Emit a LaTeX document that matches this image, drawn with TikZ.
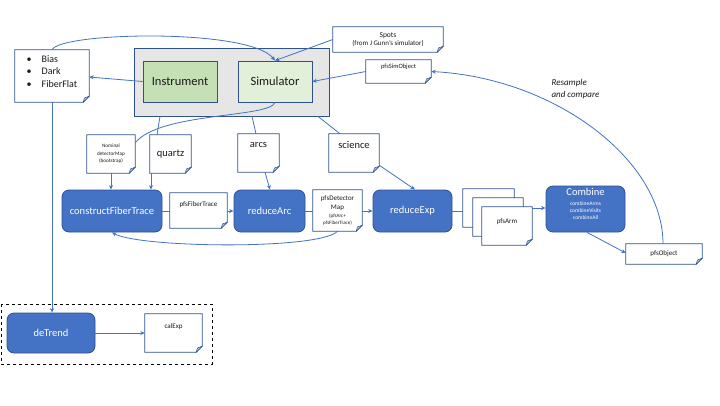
\documentclass[tikz,border=0pt]{standalone}
\usepackage{fontspec}
\setmainfont{Carlito}
\usetikzlibrary{arrows.meta}
\definecolor{procblue}{HTML}{4472C4}
\definecolor{procedge}{HTML}{2F528F}
\definecolor{lineblue}{HTML}{4472C4}
\definecolor{instgreen}{HTML}{C5E0B4}
\definecolor{simgreen}{HTML}{E2F0D9}
\definecolor{boxgray}{HTML}{E7E6E6}
\definecolor{foldfill}{HTML}{B7C3DA}
\definecolor{darktext}{HTML}{1A1A1A}
\newcommand\fs[2]{\fontsize{#1}{#2}\selectfont}
\newcommand\foldnote[1]{%
  \draw[noteline] (#1.north west) -- (#1.north east) -- ([yshift=6pt]#1.south east)
    -- ([xshift=-6pt]#1.south east) -- (#1.south west) -- cycle;
  \draw[noteline,fill=foldfill,line width=0.5pt] ([yshift=6pt]#1.south east)
    -- ([xshift=-6pt]#1.south east) -- ([xshift=-4.8pt,yshift=4.2pt]#1.south east) -- cycle;}
\begin{document}
\begin{tikzpicture}[x=1pt,y=-1pt,
  proc/.style={rounded corners=7pt, fill=procblue, draw=procedge, line width=0.8pt,
    text=white, inner sep=0pt, font=\fs{10.5}{12}},
  notebox/.style={fill=white, inner sep=0pt, align=center, text=darktext, font=\fs{7}{8.5}},
  noteline/.style={draw=procedge, line width=0.8pt},
  greenbox/.style={draw=procedge, line width=0.8pt, inner sep=0pt, text=darktext, font=\fs{12.5}{15}},
  conn/.style={draw=lineblue, line width=0.8pt},
  arr/.style={conn, -{Stealth[length=4.5pt,width=4pt]}},
]
\useasboundingbox (0,0) rectangle (720,405);
\fill[white] (0,0) rectangle (720,405);

% dashed frame
\draw[dashed, line width=0.8pt] (1,304) rectangle (212,364);

% gray instrument/simulator frame
\node[draw=procedge, fill=boxgray, line width=0.8pt, minimum width=195pt, minimum height=68pt, inner sep=0pt] (gbox) at (231.5,82) {};
\node[greenbox, fill=instgreen, minimum width=74pt, minimum height=41pt] (inst) at (180,81.5) {Instrument};
\node[greenbox, fill=simgreen, minimum width=74pt, minimum height=41pt] (sim) at (275,81.5) {Simulator};

% notes
\node[notebox, minimum width=74pt, minimum height=52pt, align=left, font=\fs{10}{12.5}] (bias) at (52,76)
  {\begin{tabular}{@{}l@{\hspace{10pt}}l@{}}\textbullet&Bias\\ \textbullet&Dark\\ \textbullet&FiberFlat\\[8pt]\end{tabular}};
\foldnote{bias}
\node[notebox, minimum width=110pt, minimum height=25pt] (spots) at (388,39.5)
  {{\fs{7.5}{9}Spots}\\(from J Gunn’s simulator)};
\foldnote{spots}
\node[notebox, minimum width=65pt, minimum height=23pt, font=\fs{6.5}{8}] (simobj) at (398.5,71.5) {pfsSimObject\\[3pt]};
\foldnote{simobj}
\node[notebox, minimum width=48pt, minimum height=38pt, font=\fs{5.2}{7.5}] (nominal) at (111,154)
  {Nominal\\detectorMap\\(bootstrap)};
\foldnote{nominal}
\node[notebox, minimum width=41pt, minimum height=38pt, font=\fs{10.5}{12}] (quartz) at (170.5,154) {quartz};
\foldnote{quartz}
\node[notebox, minimum width=41pt, minimum height=38pt, font=\fs{10.5}{12}] (arcs) at (258.5,153) {arcs\\[4pt]};
\foldnote{arcs}
\node[notebox, minimum width=50pt, minimum height=38pt, font=\fs{10.5}{12}] (science) at (354,153) {science\\[4pt]};
\foldnote{science}
\node[notebox, minimum width=57pt, minimum height=35pt] (pft) at (198.5,210.5) {pfsFiberTrace\\[4pt]};
\foldnote{pft}
\node[notebox, minimum width=49pt, minimum height=41pt, font=\fs{5}{6.2}] (pdm) at (337.5,210.5)
  {{\fs{7}{6.2}pfsDetector}\\[2pt]{\fs{7}{6.2}Map}\\[2.5pt](pfsArc+\\pfsFiberTrace)};
\foldnote{pdm}
\node[notebox, minimum width=51pt, minimum height=38pt] (arm1) at (488.5,208) {};
\foldnote{arm1}
\node[notebox, minimum width=50pt, minimum height=38pt] (arm2) at (498,217) {};
\foldnote{arm2}
\node[notebox, minimum width=50pt, minimum height=38pt] (arm3) at (507,226) {pfsArm\\[2pt]};
\foldnote{arm3}
\node[notebox, minimum width=76pt, minimum height=20pt] (pobj) at (664,254) {pfsObject};
\foldnote{pobj}
\node[notebox, minimum width=57pt, minimum height=38pt] (calexp) at (173.5,333) {calExp\\[6pt]};
\foldnote{calexp}

% processes
\node[proc, minimum width=100pt, minimum height=42pt] (cft) at (112,211) {constructFiberTrace};
\node[proc, minimum width=71pt, minimum height=42pt] (rarc) at (269.5,211) {reduceArc};
\node[proc, minimum width=79pt, minimum height=42pt] (rexp) at (412.5,211) {reduceExp};
\node[proc, minimum width=79pt, minimum height=46pt, align=center, font=\fs{5.5}{7}] (comb) at (585.5,209)
  {{\fs{10.5}{7}Combine}\\[3.5pt]combineArms\\combineVisits\\combineAll\\[3pt]};
\node[proc, minimum width=88pt, minimum height=40pt] (detrend) at (51,333) {deTrend};

% label
\node[anchor=west, align=left, font=\fs{9}{12}\itshape, text=darktext] (resample) at (548,89) {Resample\\and compare};

% connectors
\draw[arr] (bias.north) .. controls (60,32) and (250,28) .. (sim.north);
\draw[arr] (spots.west) -- (sim.north);
\draw[arr] (simobj.west) -- (sim.east);
\draw[arr] (inst.west) -- ([yshift=-1pt]bias.east);
\draw[conn] (sim.south) .. controls (270,118) and (160,112) .. ([yshift=-8pt]nominal.north east);
\draw[conn] ([xshift=-71.5pt]gbox.south) -- ([xshift=-13.5pt]quartz.north);
\draw[conn] ([xshift=20.5pt]gbox.south) -- ([xshift=-2.5pt]arcs.north);
\draw[conn] ([xshift=86.5pt]gbox.south) -- ([xshift=-14pt]science.north);
\draw[arr] (nominal.south) -- (nominal.south |- cft.north);
\draw[arr] ([xshift=-19.5pt]quartz.south) -- ([xshift=-19.5pt]quartz.south |- cft.north);
\draw[arr] ([xshift=6.5pt]arcs.south) -- ([xshift=0.5pt]rarc.north);
\draw[arr] ([yshift=7pt]science.south east) -- ([xshift=2.5pt]rexp.north);
\draw[conn] (cft.east) -- (pft.west |- cft.east);
\draw[arr] (pft.east |- rarc.west) -- (rarc.west);
\draw[conn] (rarc.east) -- (pdm.west |- rarc.east);
\draw[arr] (pdm.east |- rexp.west) -- (rexp.west);
\draw[conn] (rexp.east) -- (rexp.east -| arm1.west);
\draw[arr] (arm1.east -| arm3.east) -- (comb.west |- arm1.east);
\draw[arr] ([xshift=1.5pt]comb.south) -- ([yshift=1pt]pobj.west);
\draw[arr] ([xshift=-1pt]pobj.north) .. controls (663,160) and (555,78) .. (simobj.east);
\draw[arr] (pdm.south) .. controls (320,250) and (140,248) .. (cft.south);
\draw[arr] (bias.south) -- (bias.south |- detrend.north);
\draw[arr] (detrend.east) -- (calexp.west);
\end{tikzpicture}
\end{document}
